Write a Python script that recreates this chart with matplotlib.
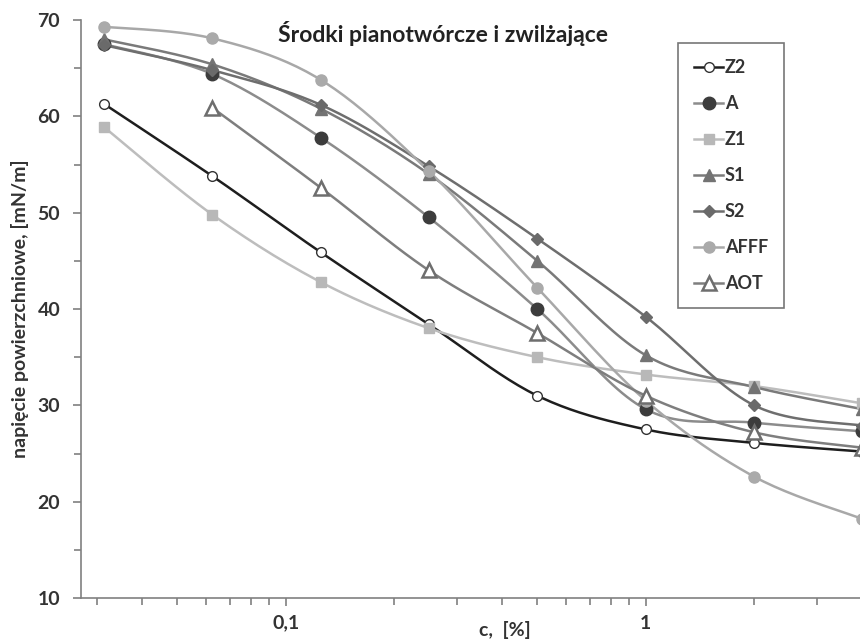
import numpy as np
import matplotlib
matplotlib.use("Agg")
import matplotlib.pyplot as plt
from matplotlib.ticker import FixedLocator, NullFormatter, MultipleLocator

plt.rcParams['font.family'] = ['Lato', 'DejaVu Sans']
plt.rcParams['font.weight'] = 'bold'

# stezenie c [%]
conc = [0.03125, 0.0625, 0.125, 0.25, 0.5, 1, 2, 4]

# napiecie powierzchniowe [mN/m]
z2 = [61.3, 53.8, 45.9, 38.4, 31.0, 27.5, 26.1, 25.2]
a = [67.5, 64.4, 57.8, 49.5, 40.0, 29.6, 28.2, 27.3]
z1 = [58.9, 49.8, 42.8, 38.0, 35.0, 33.2, 32.0, 30.2]
s1 = [68.0, 65.4, 60.8, 54.0, 45.0, 35.2, 31.9, 29.6]
s2 = [67.4, 64.8, 61.2, 54.8, 47.3, 39.2, 30.0, 27.9]
afff = [69.3, 68.1, 63.8, 54.3, 42.2, 30.5, 22.6, 18.2]
aot = [np.nan, 60.9, 52.6, 44.0, 37.5, 31.0, 27.2, 25.6]

labels = ['Z2', 'A', 'Z1', 'S1', 'S2', 'AFFF', 'AOT']


def smooth(x, y, n=24):
    # Excel-like smoothed line (Catmull-Rom in log-x space)
    x = np.asarray(x, float)
    y = np.asarray(y, float)
    ok = ~np.isnan(y)
    p = np.column_stack([np.log10(x[ok]), y[ok]])
    p = np.vstack([p[0], p, p[-1]])
    out = []
    t = np.linspace(0, 1, n)[:, None]
    for i in range(1, len(p) - 2):
        p0, p1, p2, p3 = p[i - 1], p[i], p[i + 1], p[i + 2]
        seg = 0.5 * ((2 * p1) + (-p0 + p2) * t
                     + (2 * p0 - 5 * p1 + 4 * p2 - p3) * t ** 2
                     + (-p0 + 3 * p1 - 3 * p2 + p3) * t ** 3)
        out.append(seg)
    out = np.vstack(out)
    return 10 ** out[:, 0], out[:, 1]


fig = plt.figure(figsize=(8.6, 6.4), dpi=100)
ax = fig.add_axes([81 / 860, 42 / 640, 816 / 860, 578 / 640])

styles = [
    (z2, dict(color='#1e1e1e', marker='o', mfc='white', mec='#333333', ms=7)),
    (a, dict(color='#8c8c8c', marker='o', mfc='#3c3c3c', mec='#3c3c3c', ms=9)),
    (z1, dict(color='#bdbdbd', marker='s', mfc='#b8b8b8', mec='#b8b8b8', ms=7)),
    (s1, dict(color='#7a7a7a', marker='^', mfc='#737373', mec='#737373', ms=9)),
    (s2, dict(color='#6e6e6e', marker='D', mfc='#6a6a6a', mec='#6a6a6a', ms=6)),
    (afff, dict(color='#a8a8a8', marker='o', mfc='#aaaaaa', mec='#aaaaaa', ms=8)),
    (aot, dict(color='#7e7e7e', marker='^', mfc='white', mec='#6e6e6e', ms=10, mew=1.8)),
]

handles = []
for (vals, st), lab in zip(styles, labels):
    sx, sy = smooth(conc, vals)
    ax.plot(sx, sy, color=st['color'], lw=1.8, zorder=2, clip_on=False)
    mk = {k: v for k, v in st.items() if k != 'color'}
    ax.plot(conc, vals, ls='none', zorder=3, clip_on=False, **mk)
    h, = ax.plot([], [], color=st['color'], lw=1.8, label=lab, **mk)
    handles.append(h)

ax.set_xscale('log')
ax.set_xlim(0.027, 10 ** (np.log10(0.027) + 816 / 360))
ax.set_ylim(10, 70)

ax.xaxis.set_major_locator(FixedLocator([0.1, 1]))
ax.xaxis.set_minor_locator(FixedLocator(
    [0.03, 0.04, 0.05, 0.06, 0.07, 0.08, 0.09,
     0.2, 0.3, 0.4, 0.5, 0.6, 0.7, 0.8, 0.9, 2, 3, 4]))
ax.xaxis.set_minor_formatter(NullFormatter())
ax.set_xticklabels(['0,1', '1'])
ax.yaxis.set_major_locator(MultipleLocator(10))
ax.yaxis.set_minor_locator(MultipleLocator(5))

for s in ['top', 'right']:
    ax.spines[s].set_visible(False)
for s in ['left', 'bottom']:
    ax.spines[s].set_color('#808080')
    ax.spines[s].set_linewidth(1.2)

ax.tick_params(which='both', direction='out', color='#808080', width=1.2)
ax.tick_params(which='major', length=6, labelsize=14, colors='#808080',
               labelcolor='#333333')
ax.tick_params(which='minor', length=5)
ax.tick_params(axis='x', which='major', pad=6)
ax.tick_params(axis='y', which='major', pad=9)
for lbl in ax.get_xticklabels() + ax.get_yticklabels():
    lbl.set_fontweight('bold')

ax.set_ylabel('napięcie powierzchniowe, [mN/m]', fontsize=14,
              fontweight='bold', color='#333333', labelpad=6)
fig.text(505 / 860, 1 - 630 / 640, 'c,  [%]', fontsize=14, fontweight='bold',
         color='#333333', ha='center', va='center')
fig.text(443 / 860, 1 - 33 / 640, 'Środki pianotwórcze i zwilżające',
         fontsize=16.5, fontweight='bold', color='#222222',
         ha='center', va='center')

leg = ax.legend(handles=handles, loc='upper left',
                bbox_to_anchor=((678 - 81) / 816, (598 - 43) / 578),
                borderaxespad=0, frameon=True, fancybox=False,
                edgecolor='#555555', labelspacing=1.05,
                handlelength=1.6, handletextpad=0.1, borderpad=0.9,
                prop={'weight': 'bold', 'size': 13})
leg.get_frame().set_linewidth(1.2)
for t in leg.get_texts():
    t.set_color('#333333')

fig.savefig('out.png', dpi=100)
